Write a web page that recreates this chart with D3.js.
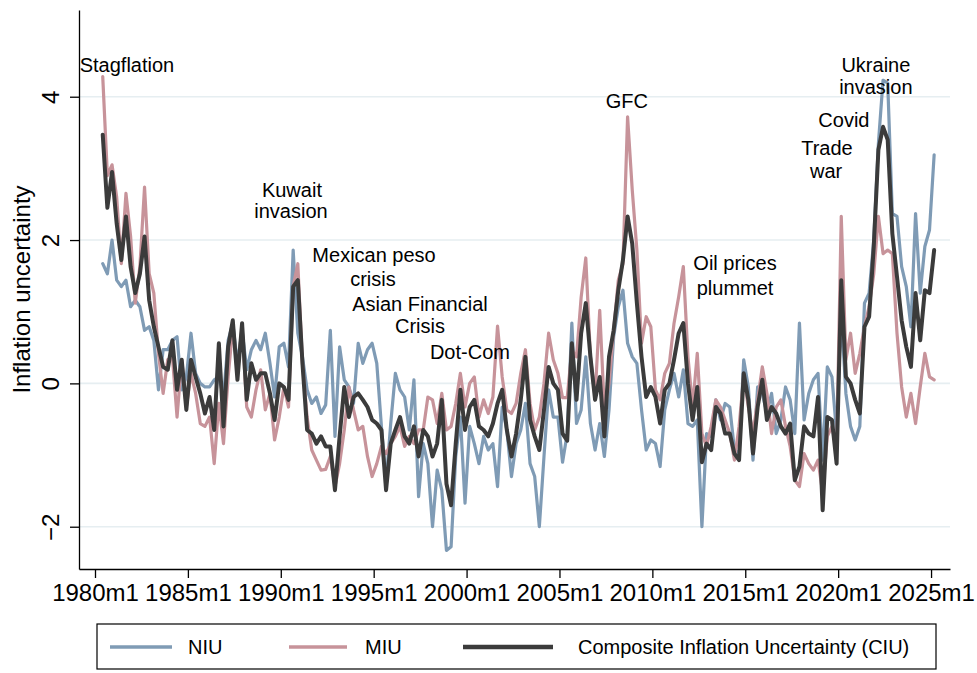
<!DOCTYPE html>
<html>
<head>
<meta charset="utf-8">
<script src="https://cdn.jsdelivr.net/npm/d3@7"></script>
<style>
  body { margin: 0; background: #fff; }
  svg { display: block; font-family: Arial, "Liberation Sans", Helvetica, sans-serif; }
</style>
</head>
<body>
<svg id="chart" width="977" height="673"></svg>
<script>
// Quarterly observations, 1980m6 through 2025m3 (every 3 months)
const firstMonth = 5;      // 0-based month index from 1980m1 (1980m6)
const stepMonths = 3;

const niu = [
  1.67, 1.53, 2.0,
  1.44, 1.35, 1.44, 1.07,
  1.16, 1.07, 0.74, 0.79,
  0.6, -0.09, 0.47, 0.47,
  0.6, 0.65, -0.09, 0.09,
  0.7, 0.14, 0.0, -0.05,
  -0.05, 0.05, 0.09, -0.19,
  0.6, 0.84, 0.28, 0.74,
  0.19, 0.47, 0.6, 0.47,
  0.7, 0.28, -0.19, 0.51,
  0.56, 0.23, 1.86, 0.7,
  0.37, -0.09, -0.28, -0.19,
  -0.42, -0.3, 0.74, -0.74,
  0.51, 0.05, -0.05, -0.28,
  0.56, 0.28, 0.47, 0.56,
  0.28, -0.6, -1.4, -0.56,
  0.14, -0.09, -0.19, -0.65,
  0.05, -1.58, -0.84, -1.12,
  -2.0, -1.21, -1.49, -2.33,
  -2.28, -1.02, -0.47, -1.67,
  -0.6, -0.84, -1.12, -0.74,
  -0.93, -0.84, -1.44, -0.33,
  -0.65, -1.3, -0.84, -0.65,
  -0.28, -1.12, -1.3, -2.0,
  -1.02, -0.09, -0.47, -0.47,
  -1.1, -0.7, 0.84, -0.56,
  -0.37, 0.37, -0.56, -0.93,
  -0.56, -1.02, -0.37, 0.65,
  1.07, 1.3, 0.56, 0.37,
  0.28, -0.37, -0.93, -0.79,
  -0.84, -1.16, -0.37, -0.09,
  0.14, -0.19, 0.19, -0.56,
  -0.6, -0.51, -2.0, -0.7,
  -0.74, -0.23, -0.51, -0.28,
  -0.33, -0.93, -0.98, 0.33,
  -0.05, -1.07, -0.05, -0.14,
  -0.42, -0.14, -0.7, -0.51,
  -0.05, -0.23, -0.7, 0.84,
  -0.51, -0.14, 0.05, 0.14,
  -1.07, 0.23, 0.09, -0.7,
  0.98, -0.14, -0.6, -0.79,
  -0.6, 1.12, 1.26, 2.0,
  3.35, 4.23, 4.19, 2.37,
  2.33, 1.63, 1.35, 0.79,
  2.37, 1.26, 1.91, 2.14,
  3.19
];

const miu = [
  4.28, 2.9, 3.05,
  2.6, 1.67, 2.65, 2.05,
  1.12, 1.63, 2.74, 1.53,
  1.26, 0.42, -0.14, 0.33,
  0.37, -0.47, 0.33, -0.33,
  0.14, -0.14, -0.56, -0.6,
  -0.47, -1.12, -0.28, -0.84,
  0.09, 0.79, 0.14, 0.79,
  -0.33, -0.47, -0.09, 0.19,
  -0.37, -0.14, -0.79, -0.47,
  -0.05, -0.33, 1.35, 1.67,
  0.28, -0.47, -0.93, -1.07,
  -1.21, -1.2, -1.02, -1.44,
  -1.12, -0.65, -0.05, -0.37,
  -0.65, -0.6, -1.02, -1.3,
  -1.12, -0.88, -0.98, -0.84,
  -0.74, -0.6, -0.88, -0.74,
  -0.84, -0.65, -0.65, -0.19,
  -0.23, -0.56, -0.14, -0.65,
  -0.6, -0.28, 0.14, -0.33,
  0.0, 0.09, -0.47, -0.23,
  -0.42, -0.19, 0.8, 0.09,
  -0.37, -0.42, -0.28, 0.14,
  0.47, -0.28, -0.65, -0.47,
  0.0, 0.7, 0.33, 0.14,
  -0.2, -0.2, 0.47, 0.37,
  1.2, 1.75, 0.37, -0.19,
  1.02, -0.37, 0.0, 0.74,
  1.44, 1.67, 3.72, 2.7,
  1.86, 0.56, 0.93, 0.79,
  -0.09, -0.23, 0.14, 0.28,
  0.84, 1.21, 1.63, 0.37,
  -0.33, 0.42, -0.7, -0.88,
  -0.6, -0.23, -0.33, -0.51,
  -0.7, -1.07, -0.6, 0.09,
  -0.33, -0.7, -0.23, 0.23,
  -0.14, -0.7, -0.33, -0.23,
  -0.6, -0.88, -1.35, -1.44,
  -0.98, -1.12, -1.21, -1.07,
  -1.53, -0.74, -0.6, -0.93,
  2.33, 0.33, 0.7, 0.14,
  0.42, 0.79, 1.07, 1.53,
  2.33, 1.81, 1.86, 1.81,
  0.7, -0.05, -0.47, -0.14,
  -0.56, -0.05, 0.42, 0.09,
  0.05
];

const ciu = [
  3.47, 2.45, 2.95,
  2.23, 1.72, 2.33, 1.63,
  1.26, 1.53, 2.05, 1.16,
  0.79, 0.51, 0.23, 0.19,
  0.6, -0.09, 0.33, -0.37,
  0.33, 0.09, -0.14, -0.42,
  -0.19, -0.65, 0.56, -0.6,
  0.51, 0.88, 0.05, 0.84,
  -0.23, 0.28, 0.05, 0.14,
  0.14, -0.14, -0.51, 0.0,
  -0.05, -0.23, 1.35, 1.44,
  0.28, -0.65, -0.7, -0.84,
  -0.74, -0.88, -0.88, -1.49,
  -0.74, -0.05, -0.47, -0.19,
  -0.14, -0.23, -0.33, -0.51,
  -0.56, -0.65, -1.49, -0.84,
  -0.65, -0.47, -0.74, -0.84,
  -0.6, -1.02, -0.65, -0.74,
  -1.02, -0.84, -0.23, -1.4,
  -1.7, -0.84, -0.09, -0.65,
  -0.33, -0.23, -0.6, -0.65,
  -0.74, -0.56, -0.28, -0.09,
  -0.65, -1.02, -0.7, -0.23,
  0.37, -0.51, -0.74, -0.93,
  -0.37, 0.23, 0.0, -0.09,
  -0.7, -0.8, 0.56, -0.23,
  0.7, 1.12, 0.37, -0.23,
  0.09, -0.74, 0.37, 0.74,
  1.3, 1.72, 2.33, 1.95,
  1.12, 0.37, -0.19, -0.05,
  -0.19, -0.56, -0.09, 0.0,
  0.33, 0.7, 0.84, 0.0,
  -0.51, -0.05, -1.1, -0.84,
  -0.93, -0.33, -0.42, -0.7,
  -0.7, -0.98, -1.07, 0.14,
  -0.23, -0.98, -0.33, 0.05,
  -0.51, -0.33, -0.42, -0.6,
  -0.7, -0.56, -1.35, -1.16,
  -0.6, -0.7, -0.74, -0.19,
  -1.77, -0.47, -0.51, -1.12,
  1.44, 0.09, 0.0, -0.23,
  -0.42, 0.79, 0.93, 1.91,
  3.26, 3.58, 3.4, 2.09,
  1.49, 0.88, 0.51, 0.23,
  1.26, 0.6, 1.3, 1.26,
  1.86
];

// Axis ticks
const xTickYears = [1980, 1985, 1990, 1995, 2000, 2005, 2010, 2015, 2020, 2025];
const yTicks = [-2, 0, 2, 4];

// Event annotations (text lines placed in data coordinates)
const eventLabels = ["Stagflation", "Kuwait", "invasion", "Mexican peso", "crisis",
  "Asian Financial", "Crisis", "Dot-Com", "GFC", "Oil prices", "plummet",
  "Trade", "war", "Covid", "Ukraine", "invasion"];
const eventYears = [1981.72, 1990.60, 1990.55, 1995.02, 1994.96,
  1997.49, 1997.49, 2000.18, 2008.63, 2014.45, 2014.45,
  2019.40, 2019.35, 2020.31, 2022.03, 2022.03];
const eventValues = [4.44, 2.70, 2.40, 1.79, 1.455,
  1.106, 0.80, 0.436, 3.94, 1.68, 1.33,
  3.28, 2.96, 3.67, 4.44, 4.13];

const seriesNames = ["NIU", "MIU", "Composite Inflation Uncertainty (CIU)"];
const seriesColors = ["#7f9bb5", "#c7939a", "#3b3b3b"];
const seriesWidths = [3.2, 3.2, 4];
const seriesValues = [niu, miu, ciu];

const svg = d3.select("#chart");

const x = d3.scaleLinear().domain([1979.139, 2026.02]).range([79, 950]);
const y = d3.scaleLinear().domain([-2.59, 5.21]).range([569, 10]);

const dateOf = i => 1980 + (firstMonth + stepMonths * i) / 12;

// Horizontal gridlines
svg.append("g").selectAll("line").data(yTicks).join("line")
  .attr("x1", x.range()[0]).attr("x2", x.range()[1])
  .attr("y1", d => y(d)).attr("y2", d => y(d))
  .attr("stroke", "#e6eef1").attr("stroke-width", 1.6);

// Series lines
const line = d3.line().x((d, i) => x(dateOf(i))).y(d => y(d));
seriesValues.forEach((vals, k) => {
  svg.append("path").datum(vals)
    .attr("fill", "none")
    .attr("stroke", seriesColors[k])
    .attr("stroke-width", seriesWidths[k])
    .attr("stroke-linejoin", "round")
    .attr("stroke-linecap", "round")
    .attr("d", line);
});

// Bottom axis
const xAxis = svg.append("g").attr("transform", `translate(0,${y.range()[0]})`)
  .call(d3.axisBottom(x).tickValues(xTickYears).tickSize(9).tickSizeOuter(0)
    .tickFormat(d => d + "m1"));
xAxis.select(".domain").attr("stroke", "#000").attr("stroke-width", 1.3);
xAxis.selectAll(".tick line").attr("stroke", "#000").attr("stroke-width", 1.3);
xAxis.selectAll(".tick text").attr("font-size", 24).attr("fill", "#000")
  .attr("font-family", "Arial, 'Liberation Sans', sans-serif").attr("y", 15);

// Left axis with upright-rotated labels
const yAxis = svg.append("g").attr("transform", `translate(${x.range()[0]},0)`)
  .call(d3.axisLeft(y).tickValues(yTicks).tickSize(9).tickSizeOuter(0));
yAxis.select(".domain").attr("stroke", "#000").attr("stroke-width", 1.3);
yAxis.selectAll(".tick line").attr("stroke", "#000").attr("stroke-width", 1.3);
yAxis.selectAll(".tick text")
  .attr("x", null).attr("dy", null)
  .attr("text-anchor", "middle")
  .attr("transform", "translate(-20,0) rotate(-90)")
  .attr("font-size", 24).attr("fill", "#000")
  .attr("font-family", "Arial, 'Liberation Sans', sans-serif");

// Y axis title
svg.append("text")
  .attr("transform", `translate(30,${(y.range()[0] + y.range()[1]) / 2}) rotate(-90)`)
  .attr("text-anchor", "middle")
  .attr("font-size", 24).attr("fill", "#000")
  .text("Inflation uncertainty");

// Event annotations
svg.append("g").selectAll("text").data(eventLabels).join("text")
  .attr("x", (d, i) => x(eventYears[i]))
  .attr("y", (d, i) => y(eventValues[i]))
  .attr("dy", "0.35em")
  .attr("text-anchor", "middle")
  .attr("font-size", 20).attr("fill", "#000")
  .text(d => d);

// Legend
const legend = svg.append("g");
legend.append("rect").attr("x", 97).attr("y", 624).attr("width", 839).attr("height", 45)
  .attr("fill", "#fff").attr("stroke", "#000").attr("stroke-width", 1.2);
const legendLineX = [[110, 172], [289, 347], [463, 553]];
const legendTextX = [188, 365, 578];
seriesNames.forEach((name, k) => {
  legend.append("line")
    .attr("x1", legendLineX[k][0]).attr("x2", legendLineX[k][1])
    .attr("y1", 647).attr("y2", 647)
    .attr("stroke", seriesColors[k]).attr("stroke-width", seriesWidths[k] + 0.5);
  legend.append("text").attr("x", legendTextX[k]).attr("y", 654)
    .attr("font-size", 20).attr("fill", "#000").text(name);
});
</script>
</body>
</html>
